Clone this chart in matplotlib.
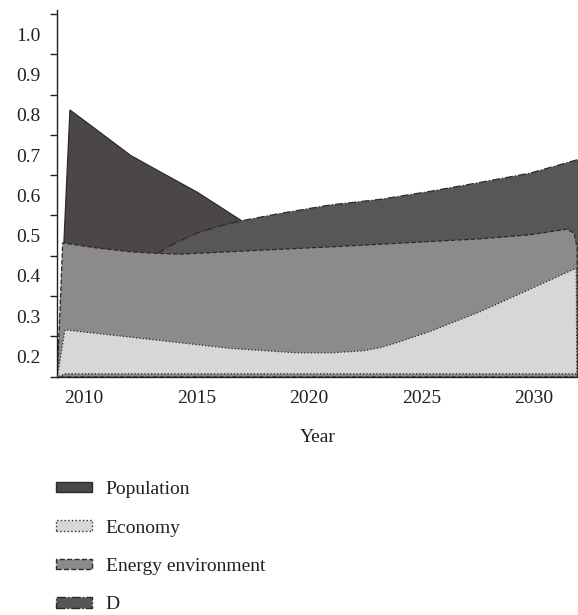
import numpy as np
import matplotlib
matplotlib.use('Agg')
import matplotlib.pyplot as plt
from matplotlib.patches import Patch

plt.rcParams['font.family'] = ['Liberation Serif', 'DejaVu Serif']

# series (year, value)
pop_years = [2008.83, 2009.37, 2010.5, 2012.07, 2013.26, 2015.02, 2017.02, 2018.7, 2021.0, 2025.0, 2032.0]
pop_vals  = [0.149, 0.813, 0.766, 0.700, 0.663, 0.609, 0.537, 0.525, 0.515, 0.510, 0.505]

d_years = [2008.83, 2009.1, 2012.0, 2013.25, 2014.0, 2015.02, 2016.0, 2017.02, 2018.72, 2020.94, 2023.16, 2025.4, 2027.6, 2029.82, 2031.9, 2032.0]
d_vals  = [0.149, 0.440, 0.445, 0.455, 0.480, 0.506, 0.523, 0.537, 0.555, 0.576, 0.590, 0.610, 0.632, 0.655, 0.688, 0.690]

env_years = [2008.83, 2009.07, 2010.5, 2012.06, 2013.25, 2014.28, 2016.5, 2018.72, 2020.94, 2024.3, 2027.6, 2029.8, 2031.45, 2031.78, 2031.91, 2031.92]
env_vals  = [0.149, 0.482, 0.470, 0.460, 0.456, 0.454, 0.460, 0.466, 0.472, 0.482, 0.492, 0.502, 0.516, 0.506, 0.470, 0.149]

eco_years = [2008.83, 2009.17, 2012.06, 2016.5, 2019.46, 2021.0, 2022.42, 2023.2, 2023.9, 2025.38, 2027.6, 2029.82, 2031.87, 2031.9]
eco_vals  = [0.149, 0.266, 0.248, 0.220, 0.209, 0.209, 0.214, 0.222, 0.234, 0.262, 0.311, 0.367, 0.419, 0.157]
eco_floor = [0.149, 0.157, 0.157, 0.157, 0.157, 0.157, 0.157, 0.157, 0.157, 0.157, 0.157, 0.157, 0.157, 0.157]

labels = ['Population', 'Economy', 'Energy environment', 'D']
colors = ['#4b4747', '#d6d8d6', '#8c8b8a', '#585657']
styles = ['-', ':', '--', '-.']
ytick_labels = ['0.2', '0.3', '0.4', '0.5', '0.6', '0.7', '0.8', '0.9', '1.0']
xtick_years = [2010, 2015, 2020, 2025, 2030]

base = 0.149
edge = '#2b2929'

fig = plt.figure(figsize=(5.78, 6.15), dpi=100)
ax = fig.add_axes([0.0991, 0.387, 0.9009, 0.5967])

ax.fill_between(pop_years, pop_vals, base, facecolor=colors[0], edgecolor=edge,
                linestyle=styles[0], linewidth=0.9, zorder=1)
ax.fill_between(d_years, d_vals, base, facecolor=colors[3], edgecolor=edge,
                linestyle=styles[3], linewidth=0.9, zorder=2)
ax.fill_between(env_years, env_vals, base, facecolor=colors[2], edgecolor=edge,
                linestyle=styles[2], linewidth=0.9, zorder=3)
ax.fill_between(eco_years, eco_vals, eco_floor, facecolor=colors[1], edgecolor=edge,
                linestyle=styles[1], linewidth=0.9, zorder=4)

ax.set_xlim(2008.83, 2031.95)
ax.set_ylim(0.149, 1.06)

# labels sit between the tick marks, like in the original
ylab_pos = [float(s) for s in ytick_labels]
ax.set_yticks(ylab_pos)
ax.set_yticklabels(ytick_labels)
ax.set_yticks([v - 0.05 for v in ylab_pos] + [1.05], minor=True)
ax.tick_params(axis='y', which='major', length=0, pad=12, labelsize=14, labelcolor='#231f20')
ax.tick_params(axis='y', which='minor', length=5, width=1, direction='out', color='#231f20')

ax.set_xticks(xtick_years)
ax.tick_params(axis='x', which='both', length=0, pad=9.5, labelsize=14, labelcolor='#231f20')
ax.set_xlabel('Year', fontsize=14, color='#231f20', labelpad=16)

for s in ['top', 'right']:
    ax.spines[s].set_visible(False)
for s in ['left', 'bottom']:
    ax.spines[s].set_linewidth(1)
    ax.spines[s].set_color('#231f20')
    ax.spines[s].set_zorder(6)

handles = [Patch(facecolor=colors[i], edgecolor=edge, linestyle=styles[i], linewidth=1)
           for i in range(4)]
fig.legend(handles, labels, loc='upper left', bbox_to_anchor=(0.08, 0.2335),
           frameon=False, fontsize=14, handlelength=1.85, handleheight=0.45,
           handletextpad=0.7, labelspacing=1.1, borderpad=0, labelcolor='#231f20')

fig.savefig('out.png', dpi=100)
